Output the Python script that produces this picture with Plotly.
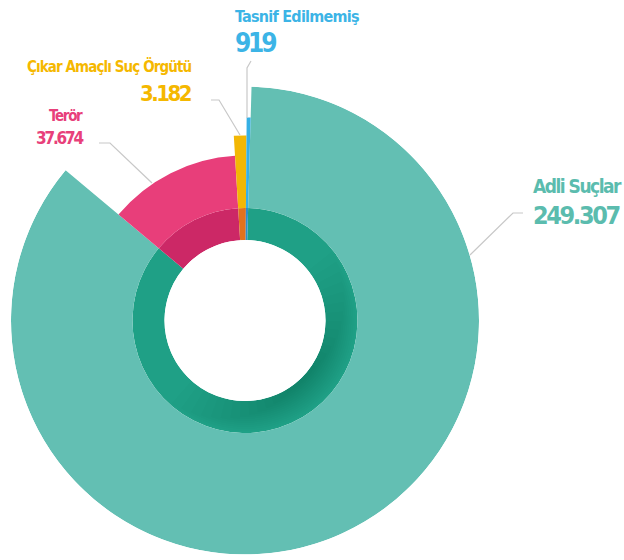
import plotly.graph_objects as go

# data
labels = ["Adli Suçlar", "Terör", "Çıkar Amaçlı Suç Örgütü", "Tasnif Edilmemiş"]
values = [249307, 37674, 3182, 919]
value_text = ["249.307", "37.674", "3.182", "919"]

# styling
LIGHT = ["#63bfb3", "#e83e7a", "#f2b705", "#35b0e5"]
DARK = ["#1fa086", "#cc2866", "#e2721c", "#2a8fcc"]
TEXT = ["#5bbcae", "#e8407a", "#f5b800", "#3cb4e6"]
OUTER = [234, 165, 185, 203]   # outer radius (px) of each slice
HOLE_R, RING_R, MAX_R = 80.5, 112.5, 234
W, H = 624, 560
CX, CY = 245, 320.5
FONT = "DejaVu Sans Condensed, DejaVu Sans, sans-serif"

total = sum(values)
widths = [v / total * 360 for v in values]
thetas, acc = [], 0
for w in widths:
    thetas.append(acc + w / 2)
    acc += w

fig = go.Figure()
fig.add_trace(go.Barpolar(theta=thetas, width=widths, base=[HOLE_R] * 4,
                          r=[RING_R - HOLE_R] * 4, marker=dict(color=DARK, line_width=0),
                          hoverinfo="skip"))
fig.add_trace(go.Barpolar(theta=thetas, width=widths, base=[RING_R] * 4,
                          r=[o - RING_R for o in OUTER], marker=dict(color=LIGHT, line_width=0),
                          text=labels, hoverinfo="text"))

# soft shadow on the inner ring, lower right of the hole
for k in range(14):
    fig.add_trace(go.Barpolar(theta=[135], width=[170 - 11 * k], base=[HOLE_R], r=[30 - 2 * k],
                              marker=dict(color="rgba(0,0,0,0.013)", line_width=0),
                              hoverinfo="skip"))


def px(x, y):
    return x / W, 1 - y / H


# leader lines (pixel positions)
leaders = [
    [(470, 255), (513, 213), (523, 213)],
    [(152, 183), (110, 143), (99, 143)],
    [(240, 135), (219, 100), (211, 100)],
    [(247, 118), (247, 68), (251, 61)],
]
for pts in leaders:
    path = "M " + " L ".join(f"{px(*p)[0]},{px(*p)[1]}" for p in pts)
    fig.add_shape(type="path", path=path, xref="paper", yref="paper",
                  line=dict(color="#c8c8c8", width=1.2))

# label layout: x, anchor, (name y, size, spacing), (value y, size, spacing)
label_pos = [
    (531, "left", (173, 19, -1.5), (199, 25, -2.4)),
    (85, "right", (105, 15, -1.3), (126, 17, -2.2)),
    (194, "right", (55, 15, -0.9), (79, 22, -2.5)),
    (233, "left", (5, 16, -0.75), (26, 26, -3.2)),
]


def txt(s, ls):
    return f'<span style="letter-spacing:{ls}px"><b>{s}</b></span>'


for i, (x, anc, (y1, s1, l1), (y2, s2, l2)) in enumerate(label_pos):
    for s, y, size, ls in ((labels[i], y1, s1, l1), (value_text[i], y2, s2, l2)):
        fig.add_annotation(x=px(x, y)[0], y=px(x, y)[1], xref="paper", yref="paper",
                           text=txt(s, ls), showarrow=False, xanchor=anc, yanchor="top",
                           font=dict(family=FONT, size=size, color=TEXT[i]))

fig.update_layout(
    width=W, height=H, margin=dict(l=0, r=0, t=0, b=0), showlegend=False,
    paper_bgcolor="white", plot_bgcolor="white",
    polar=dict(
        domain=dict(x=[(CX - MAX_R) / W, (CX + MAX_R) / W],
                    y=[1 - (CY + MAX_R) / H, 1 - (CY - MAX_R) / H]),
        hole=HOLE_R / MAX_R, bgcolor="white",
        radialaxis=dict(range=[HOLE_R, MAX_R], visible=False),
        angularaxis=dict(direction="clockwise", rotation=88.4, visible=False),
    ),
)
fig.write_html("out.html", config={"displayModeBar": False},
               post_script="document.body.style.margin='0';")
